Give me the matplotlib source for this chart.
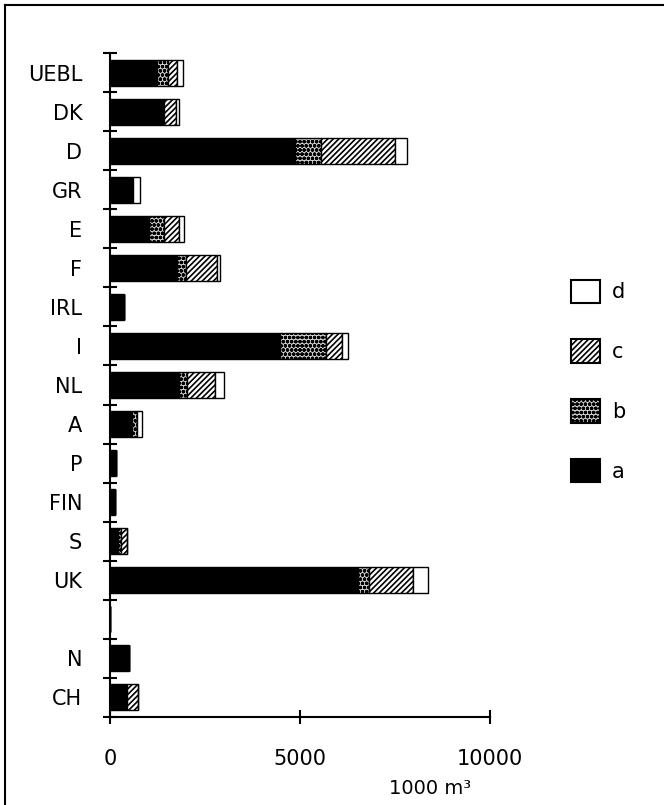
import numpy as np
import matplotlib
matplotlib.use("Agg")
import matplotlib.pyplot as plt
from matplotlib.patches import Patch
from matplotlib.lines import Line2D

# countries, top to bottom ('' = empty slot between UK and N)
countries = ['UEBL', 'DK', 'D', 'GR', 'E', 'F', 'IRL', 'I', 'NL', 'A',
             'P', 'FIN', 'S', 'UK', '', 'N', 'CH']

# stacked segments (1000 m3)
a_vals = [1245, 1420, 4870, 615, 1025, 1770, 370, 4475, 1815, 590,
          150, 130, 220, 6535, 0, 490, 440]
b_vals = [290, 0, 685, 0, 395, 230, 0, 1200, 220, 110,
          0, 0, 60, 290, 0, 0, 0]
c_vals = [220, 320, 1945, 0, 395, 805, 0, 420, 730, 0,
          0, 0, 160, 1140, 0, 0, 305]
d_vals = [155, 80, 325, 175, 140, 90, 0, 175, 235, 150,
          0, 0, 0, 395, 0, 0, 0]

plt.rcParams['font.family'] = ['DejaVu Sans']
plt.rcParams['hatch.linewidth'] = 1.2

fig = plt.figure(figsize=(6.64, 8.05), dpi=100)
ax = fig.add_axes([110/664, 1-716.7/805, 380/664, (716.7-53.3)/805])

y = np.arange(len(countries))
h = 0.68
a = np.array(a_vals); b = np.array(b_vals); c = np.array(c_vals); d = np.array(d_vals)

ax.barh(y, a, height=h, color='black', edgecolor='black', lw=1)
ax.barh(y, b, left=a, height=h, color='#d0d0d0', edgecolor='black', hatch='oooo', lw=1)
ax.barh(y, c, left=a+b, height=h, color='white', edgecolor='black', hatch='//////', lw=1)
ax.barh(y, d, left=a+b+c, height=h, color='white', edgecolor='black', lw=1)

ax.set_ylim(len(countries)-0.5, -0.5)
ax.set_xlim(0, 10000)
ax.spines['top'].set_visible(False)
ax.spines['right'].set_visible(False)
ax.spines['left'].set_linewidth(1.5)
ax.spines['bottom'].set_linewidth(1.5)

ax.set_yticks(y)
ax.set_yticklabels(countries, fontsize=15)
ax.set_yticks(np.arange(-0.5, len(countries)), minor=True)
ax.tick_params(axis='y', which='major', length=0, pad=20)
ax.tick_params(axis='y', which='minor', direction='inout', length=10, width=1.5)

ax.set_xticks([0, 5000, 10000])
ax.set_xticklabels(['0', '5000', '10000'], fontsize=15)
ax.tick_params(axis='x', direction='inout', length=10, width=1.5, pad=18)

ax.text(0.95, -0.108, '1000 m³', transform=ax.transAxes, fontsize=14,
        ha='right', va='center')

handles = [Patch(facecolor='white', edgecolor='black', lw=1.5),
           Patch(facecolor='white', edgecolor='black', hatch='//////', lw=1.5),
           Patch(facecolor='#d0d0d0', edgecolor='black', hatch='oooo', lw=1.5),
           Patch(facecolor='black', edgecolor='black', lw=1.5)]
fig.legend(handles, ['d', 'c', 'b', 'a'], loc='center left',
           bbox_to_anchor=(561/664, 1-381/805), frameon=False, fontsize=15,
           handlelength=1.35, handleheight=1.35, labelspacing=1.75,
           handletextpad=0.6, borderpad=0)

# outer frame (left and top)
fig.add_artist(Line2D([5/664, 5/664], [0, 1-5/805], color='black', lw=1.5))
fig.add_artist(Line2D([5/664, 1], [1-5/805, 1-5/805], color='black', lw=1.5))

fig.savefig('out.png', dpi=100)
